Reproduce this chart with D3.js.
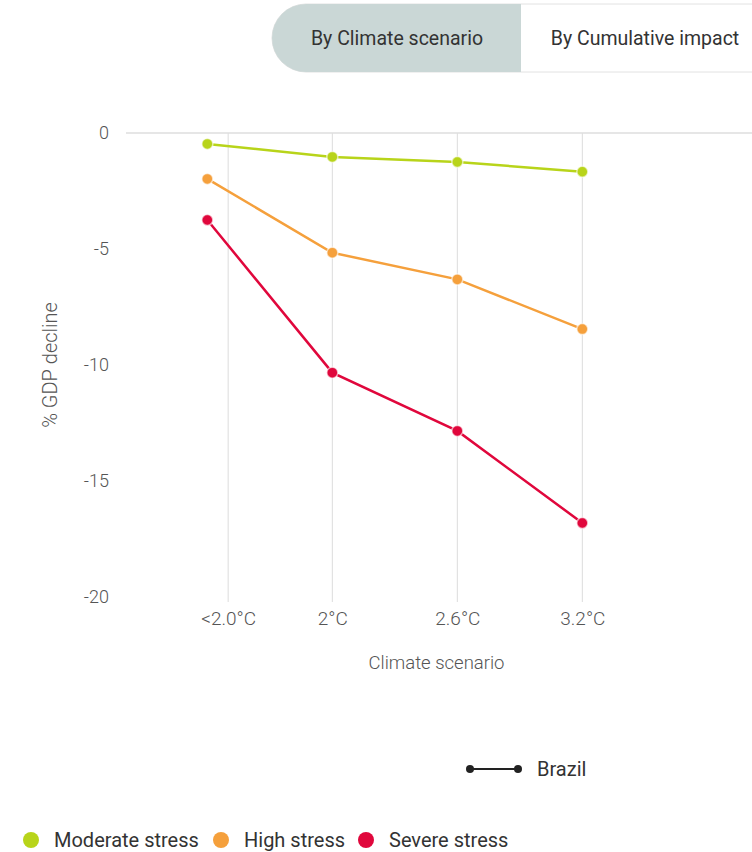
<!DOCTYPE html>
<html>
<head>
<meta charset="utf-8">
<script src="https://cdn.jsdelivr.net/npm/d3@7/dist/d3.min.js"></script>
<style>
  html, body { margin: 0; padding: 0; background: #fff; }
  svg { display: block; font-family: Roboto, "Open Sans", sans-serif; }
</style>
</head>
<body>
<svg id="chart" width="752" height="852"></svg>
<script>
// ---- data ----
const categories = ["<2.0°C", "2°C", "2.6°C", "3.2°C"];
const categoryX = [1.4, 2.0, 2.6, 3.2];      // data positions along the scenario axis
const tickX = [1.5, 2.0, 2.6, 3.2];          // tick positions
const yTicks = [0, -5, -10, -15, -20];
const seriesNames = ["Moderate stress", "High stress", "Severe stress"];
const moderate = [-0.47, -1.03, -1.25, -1.67];
const high = [-1.98, -5.16, -6.31, -8.45];
const severe = [-3.75, -10.33, -12.84, -16.81];
const colors = ["#b8d41a", "#f5a03c", "#e0073c"];
const toggleLabels = ["By Climate scenario", "By Cumulative impact"];
const countryLabel = "Brazil";

const svg = d3.select("#chart");

// ---- toggle ----
const tg = svg.append("g");
tg.append("rect").attr("x", 272).attr("y", 4).attr("width", 520).attr("height", 68)
  .attr("rx", 34).attr("fill", "#fff").attr("stroke", "#e2e2e2");
tg.append("path")
  .attr("d", "M521,4 L306,4 A34,34 0 0 0 306,72 L521,72 Z")
  .attr("fill", "#cad7d6");
tg.append("text").attr("x", 397).attr("y", 45).attr("text-anchor", "middle")
  .attr("font-size", 19.5).attr("fill", "#333").text(toggleLabels[0]);
tg.append("text").attr("x", 645).attr("y", 45).attr("text-anchor", "middle")
  .attr("font-size", 19.5).attr("fill", "#333").text(toggleLabels[1]);

// ---- scales ----
const x = d3.scaleLinear().domain([1, 4]).range([124, 749]);
const y = d3.scaleLinear().domain([0, -20]).range([133, 597]);

// vertical grid lines
svg.append("g").selectAll("line").data(tickX).join("line")
  .attr("x1", d => x(d)).attr("x2", d => x(d))
  .attr("y1", y(0)).attr("y2", 602)
  .attr("stroke", "#dcdcdc").attr("stroke-width", 1);

// zero line
svg.append("line").attr("x1", 126).attr("x2", 752)
  .attr("y1", y(0)).attr("y2", y(0))
  .attr("stroke", "#dedede").attr("stroke-width", 1.5);

// y axis
const yAxis = svg.append("g").attr("transform", "translate(109,0)")
  .call(d3.axisLeft(y).tickValues(yTicks).tickSize(0).tickPadding(0)
    .tickFormat(d => String(d)));
yAxis.select(".domain").remove();
yAxis.selectAll("text").attr("font-size", 18).attr("fill", "#555")
  .attr("font-family", "Roboto, sans-serif").attr("font-weight", 300);

// x axis
const xAxis = svg.append("g").attr("transform", "translate(0,611)")
  .call(d3.axisBottom(x).tickValues(tickX).tickSize(0).tickPadding(0)
    .tickFormat((d, i) => categories[i]));
xAxis.select(".domain").remove();
xAxis.selectAll("text").attr("font-size", 19).attr("fill", "#555")
  .attr("font-family", "Roboto, sans-serif").attr("font-weight", 300);

// axis titles
svg.append("text").attr("x", x(2.5)).attr("y", 669).attr("text-anchor", "middle")
  .attr("font-size", 18.5).attr("fill", "#555").attr("font-weight", 300).text("Climate scenario");
svg.append("text").attr("transform", `translate(57,${y(-10)}) rotate(-90)`)
  .attr("text-anchor", "middle").attr("font-size", 20).attr("fill", "#555")
  .attr("font-weight", 300).text("% GDP decline");

// series
const allSeries = [moderate, high, severe];
const line = d3.line().x((d, i) => x(categoryX[i])).y(d => y(d));
allSeries.forEach((vals, si) => {
  const g = svg.append("g");
  g.append("path").datum(vals).attr("d", line)
    .attr("fill", "none").attr("stroke", colors[si]).attr("stroke-width", 2.5);
  g.selectAll("circle").data(vals).join("circle")
    .attr("cx", (d, i) => x(categoryX[i])).attr("cy", d => y(d))
    .attr("r", 5.5).attr("fill", colors[si])
    .attr("stroke", "#fff").attr("stroke-opacity", 0.6).attr("stroke-width", 1.5);
});

// country legend
const cl = svg.append("g");
cl.append("line").attr("x1", 470).attr("x2", 518).attr("y1", 769).attr("y2", 769)
  .attr("stroke", "#222").attr("stroke-width", 2);
cl.selectAll("circle").data([470, 518]).join("circle")
  .attr("cx", d => d).attr("cy", 769).attr("r", 4).attr("fill", "#222");
cl.append("text").attr("x", 537).attr("y", 776).attr("font-size", 20).attr("fill", "#333")
  .text(countryLabel);

// stress legend
const legX = [31, 221, 366];
const lg = svg.append("g");
seriesNames.forEach((name, i) => {
  lg.append("circle").attr("cx", legX[i]).attr("cy", 840).attr("r", 8).attr("fill", colors[i]);
  lg.append("text").attr("x", legX[i] + 23).attr("y", 847).attr("font-size", 20)
    .attr("fill", "#333").text(name);
});
</script>
</body>
</html>
